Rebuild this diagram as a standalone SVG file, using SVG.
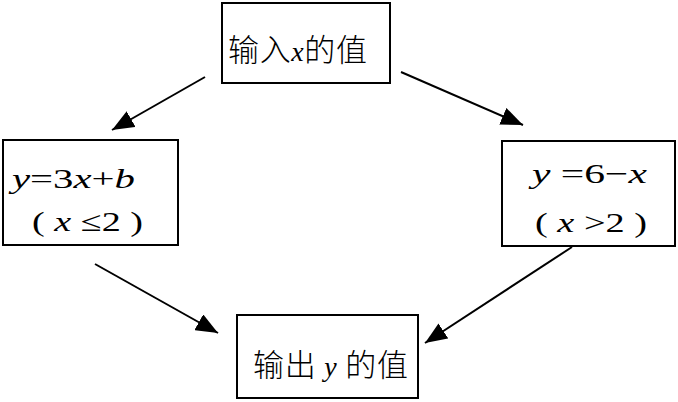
<svg xmlns="http://www.w3.org/2000/svg" width="678" height="402" viewBox="0 0 678 402">
<style>
.box{fill:#fff;stroke:#000;stroke-width:2}
.c{stroke:#000;stroke-width:2;fill:none}
.m{font-family:"Liberation Serif","DejaVu Serif",serif;font-size:28px;fill:#000}
.cn{font-family:"Noto Sans CJK SC",sans-serif;font-size:31px;font-weight:300}
.i{font-style:italic}
</style>
<defs>
<marker id="ah" markerUnits="userSpaceOnUse" markerWidth="24" markerHeight="18" refX="22" refY="9" orient="auto">
<path d="M0,0 L22,9 L0,18 Z" fill="#000"/>
</marker>
</defs>
<rect width="678" height="402" fill="#fff"/>
<g id="node-input">
<rect class="box" x="222" y="3" width="168" height="80"/>
<text class="m" x="228" y="61" textLength="139" lengthAdjust="spacing"><tspan class="cn">输入</tspan><tspan class="i">x</tspan><tspan class="cn">的值</tspan></text>
</g>
<g id="node-left">
<rect class="box" x="3" y="140" width="175" height="105"/>
<text class="m" x="12" y="188" textLength="123" lengthAdjust="spacingAndGlyphs"><tspan class="i">y</tspan>=3<tspan class="i">x</tspan>+<tspan class="i">b</tspan></text>
<text class="m" x="32" y="231" textLength="111" lengthAdjust="spacingAndGlyphs">( <tspan class="i">x</tspan> ≤2 )</text>
</g>
<g id="node-right">
<rect class="box" x="502" y="141" width="173" height="105"/>
<text class="m" x="532" y="183" textLength="115" lengthAdjust="spacingAndGlyphs"><tspan class="i">y</tspan> =6−<tspan class="i">x</tspan></text>
<text class="m" x="535" y="232" textLength="112" lengthAdjust="spacingAndGlyphs">( <tspan class="i">x</tspan> &gt;2 )</text>
</g>
<g id="node-output">
<rect class="box" x="237" y="315" width="181" height="83"/>
<text class="m" x="253" y="376" textLength="155" lengthAdjust="spacing"><tspan class="cn">输出</tspan> <tspan class="i">y</tspan> <tspan class="cn">的值</tspan></text>
</g>
<g id="connectors">
<line class="c" x1="205" y1="77" x2="112" y2="130" marker-end="url(#ah)"/>
<line class="c" x1="401" y1="72" x2="523" y2="125" marker-end="url(#ah)"/>
<line class="c" x1="95" y1="264" x2="218" y2="333" marker-end="url(#ah)"/>
<line class="c" x1="572" y1="247" x2="425" y2="343" marker-end="url(#ah)"/>
</g>
</svg>
